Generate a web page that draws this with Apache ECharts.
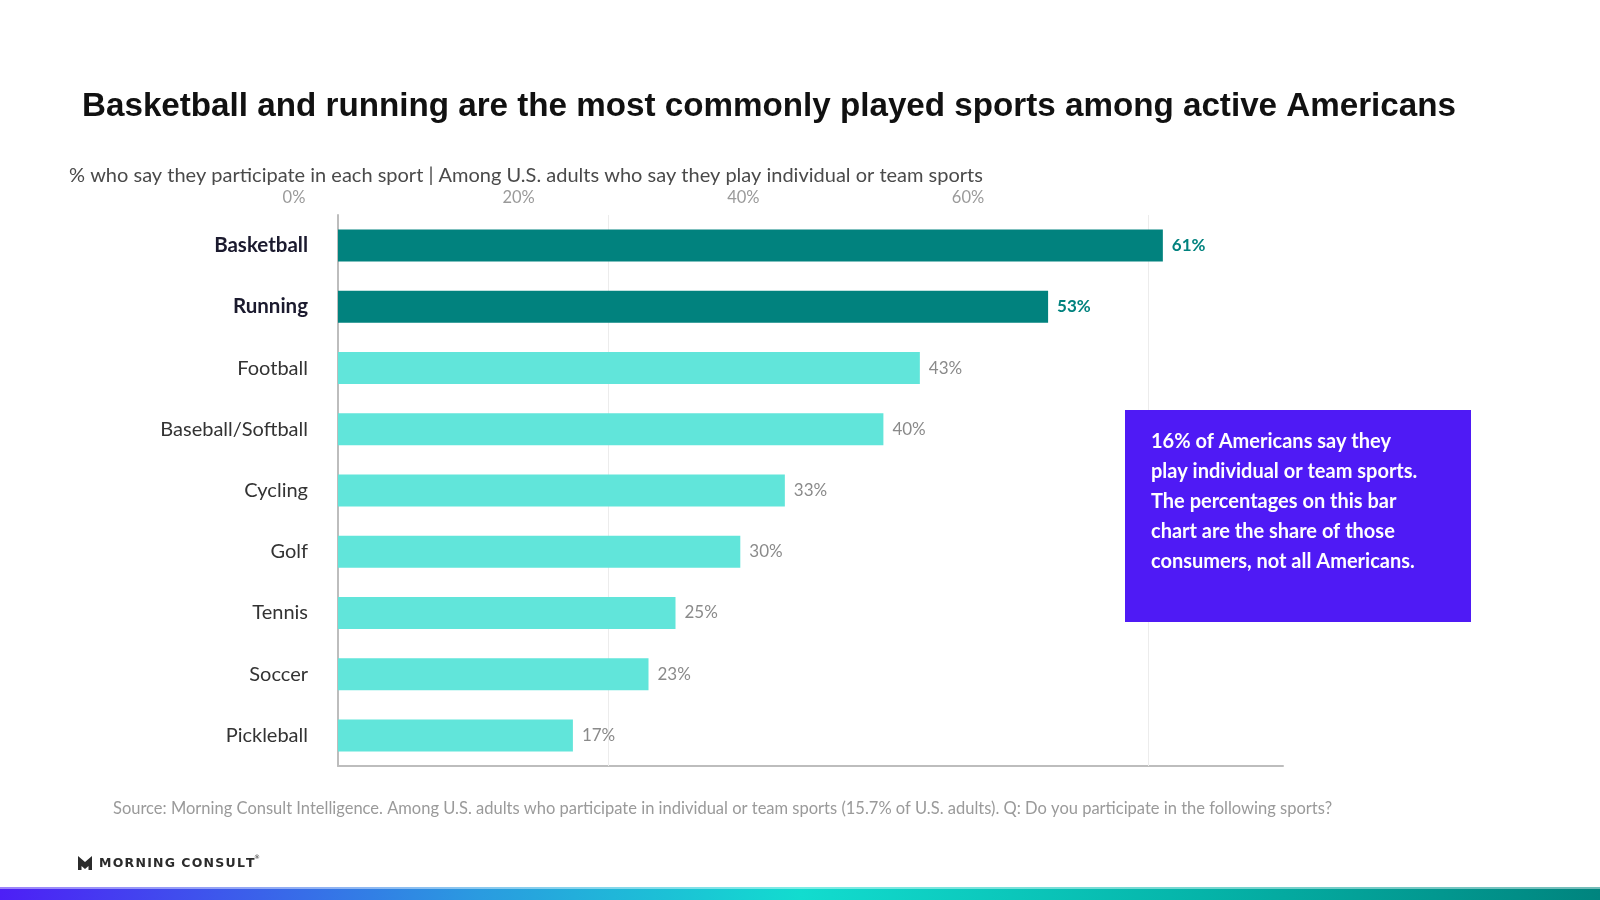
<!DOCTYPE html>
<html>
<head>
<meta charset="utf-8">
<script src="https://cdn.jsdelivr.net/npm/echarts@6/dist/echarts.min.js"></script>
<style>
  html, body { margin: 0; padding: 0; background: #fff; }
  #chart { width: 1600px; height: 900px; }
</style>
</head>
<body>
<div id="chart"></div>
<script>
// data (bar lengths are unrounded, labels show whole percents)
const sports = ['Basketball', 'Running', 'Football', 'Baseball/Softball', 'Cycling', 'Golf', 'Tennis', 'Soccer', 'Pickleball'];
const shares = [61.1, 52.6, 43.1, 40.4, 33.1, 29.8, 25.0, 23.0, 17.4];
const topSports = ['Basketball', 'Running'];
const tickValues = [0, 20, 40, 60];
const gridValues = [20, 60];

const darkTeal = '#01827e';
const lightTeal = '#61e5da';
const uiFont = 'Lato, "Open Sans", sans-serif';

const chart = echarts.init(document.getElementById('chart'));

const barData = shares.map((v, i) => {
    const hot = topSports.includes(sports[i]);
    return {
        value: v,
        itemStyle: { color: hot ? darkTeal : lightTeal },
        label: hot
            ? { color: darkTeal, fontWeight: 'bold' }
            : { color: '#8a8a8a', fontWeight: 'normal' }
    };
});

const spaced = s => s.split('').join('\u200a');

const options = {
    animation: false,
    backgroundColor: '#fff',
    title: [{
        text: 'Basketball and running are the most commonly played sports among active Americans',
        left: 77,
        top: 85,
        textStyle: { fontFamily: '"Liberation Sans", Arial, sans-serif', fontWeight: 'bold', fontSize: 33.2, color: '#111' }
    }, {
        text: '% who say they participate in each sport | Among U.S. adults who say they play individual or team sports',
        left: 64,
        top: 161,
        textStyle: { fontFamily: uiFont, fontWeight: 'normal', fontSize: 20, color: '#4a4a4a' }
    }, {
        text: 'Source: Morning Consult Intelligence. Among U.S. adults who participate in individual or team sports (15.7% of U.S. adults). Q: Do you participate in the following sports?',
        left: 108,
        top: 795,
        textStyle: { fontFamily: uiFont, fontWeight: 'normal', fontSize: 16.5, color: '#9a9a9a' }
    }],
    grid: [
        { left: 338, right: 317, top: 215, bottom: 134 },
        // tick labels sit on their own strip, offset from the plot like the original
        { left: 294, right: 632, top: 214, height: 1 }
    ],
    xAxis: [{
        gridIndex: 0,
        type: 'value',
        min: 0,
        max: 70,
        position: 'bottom',
        axisLine: { show: true, lineStyle: { color: '#bdbdbd', width: 2 } },
        axisTick: { show: false },
        axisLabel: { show: false },
        splitLine: { show: false }
    }, {
        gridIndex: 1,
        type: 'value',
        min: tickValues[0],
        max: tickValues[tickValues.length - 1],
        interval: 20,
        position: 'top',
        axisLine: { show: false },
        axisTick: { show: false },
        splitLine: { show: false },
        axisLabel: {
            margin: 8,
            fontFamily: uiFont,
            fontSize: 16.5,
            color: '#9a9a9a',
            formatter: v => v + '%'
        }
    }],
    yAxis: [{
        gridIndex: 0,
        type: 'category',
        inverse: true,
        data: sports,
        axisLine: { show: true, lineStyle: { color: '#bdbdbd', width: 2 } },
        axisTick: { show: false },
        axisLabel: {
            margin: 30,
            formatter: v => topSports.includes(v) ? '{b|' + v + '}' : '{n|' + v + '}',
            rich: {
                b: { fontFamily: uiFont, fontWeight: 'bold', fontSize: 20.5, color: '#1b1a2e' },
                n: { fontFamily: uiFont, fontWeight: 'normal', fontSize: 20, color: '#333' }
            }
        }
    }, {
        gridIndex: 1,
        type: 'category',
        data: [''],
        show: false
    }],
    series: [{
        // carries the two faint gridlines behind the bars
        type: 'line',
        xAxisIndex: 0,
        yAxisIndex: 0,
        data: [],
        z: 1,
        markLine: {
            silent: true,
            z: 1,
            symbol: 'none',
            label: { show: false },
            lineStyle: { color: '#ececec', width: 1, type: 'solid' },
            data: gridValues.map(v => ({ xAxis: v }))
        }
    }, {
        type: 'bar',
        xAxisIndex: 0,
        yAxisIndex: 0,
        barWidth: 32,
        data: barData,
        label: {
            show: true,
            position: 'right',
            distance: 9,
            fontFamily: uiFont,
            fontSize: 17,
            formatter: p => Math.round(p.value) + '%'
        },
        z: 3
    }],
    graphic: [{
        type: 'rect',
        left: 1125,
        top: 410,
        shape: { width: 346, height: 212 },
        style: { fill: '#4f1af5' },
        z: 10
    }, {
        type: 'text',
        left: 1151,
        top: 427,
        style: {
            text: '16% of Americans say they\nplay individual or team sports.\nThe percentages on this bar\nchart are the share of those\nconsumers, not all Americans.',
            fill: '#fff',
            font: 'bold 20px Lato, "Open Sans", sans-serif',
            lineHeight: 30
        },
        z: 11
    }, {
        type: 'polygon',
        shape: {
            points: [[78, 856], [85, 862], [92, 856], [92, 870], [88.5, 870], [88.5, 866], [85, 869], [81.5, 866], [81.5, 870], [78, 870]]
        },
        style: { fill: '#2b2b2b' },
        z: 10
    }, {
        type: 'text',
        left: 99,
        top: 857,
        style: {
            text: spaced('MORNING') + '\u2002' + spaced('CONSULT'),
            fill: '#2b2b2b',
            font: 'bold 12.5px "DejaVu Sans", sans-serif'
        },
        z: 10
    }, {
        type: 'text',
        left: 254,
        top: 854,
        style: { text: '®', fill: '#2b2b2b', font: '6px "DejaVu Sans", sans-serif' },
        z: 10
    }, {
        type: 'rect',
        left: 0,
        top: 887,
        shape: { width: 1600, height: 13 },
        style: {
            fill: new echarts.graphic.LinearGradient(0, 0, 1, 0, [
                { offset: 0, color: '#4d1ff6' },
                { offset: 0.3, color: '#2a9be0' },
                { offset: 0.5, color: '#12dccf' },
                { offset: 0.75, color: '#05b4a9' },
                { offset: 1, color: '#00847e' }
            ])
        },
        z: 10
    }, {
        type: 'rect',
        left: 0,
        top: 887,
        shape: { width: 1600, height: 2 },
        style: { fill: 'rgba(255,255,255,0.45)' },
        z: 11
    }]
};

chart.setOption(options);
</script>
</body>
</html>
